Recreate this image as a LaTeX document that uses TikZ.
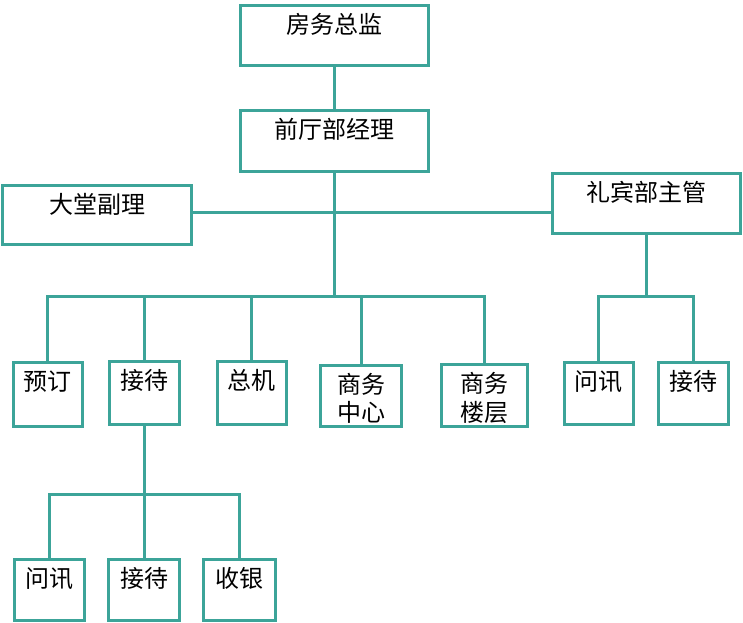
\documentclass[tikz,border=0pt]{standalone}
\usepackage{fontspec}
\newfontfamily\cjk{Noto Sans CJK SC}
\definecolor{tealc}{RGB}{60,164,153}
\begin{document}
\begin{tikzpicture}[x=1pt,y=-1pt,
  box/.style={draw=tealc, line width=3pt, inner sep=0pt, anchor=north,
    text height=28pt, font=\cjk\fontsize{24}{28.5}\selectfont, align=center},
  conn/.style={draw=tealc, line width=3pt}]
\useasboundingbox (0,0) rectangle (743,622);
% top
\node[box, minimum width=188pt, text depth=32pt] (A) at (334.5,3.5) {房务总监};
\node[box, minimum width=188pt, text depth=33pt] (B) at (334.5,108.5) {前厅部经理};
\node[box, minimum width=189pt, text depth=31pt] (C) at (97,184) {大堂副理};
\node[box, minimum width=188pt, text depth=32pt] (D) at (646.5,171.5) {礼宾部主管};
% row 2
\node[box, minimum width=69pt, text depth=36pt] (r1) at (47.8,360.8) {预订};
\node[box, minimum width=70pt, text depth=35pt] (r2) at (144.5,359.8) {接待};
\node[box, minimum width=69pt, text depth=35pt] (r3) at (251.8,359.8) {总机};
\node[box, minimum width=81pt, text depth=33pt] (r4) at (361,363.5) {\vtop{\hbox{商务}\hbox{中心}}};
\node[box, minimum width=86pt, text depth=34pt] (r5) at (484.5,363.2) {\vtop{\hbox{商务}\hbox{楼层}}};
\node[box, minimum width=69.5pt, text depth=34pt] (r6) at (598.8,360.8) {问讯};
\node[box, minimum width=70pt, text depth=34pt] (r7) at (693.5,360.5) {接待};
% bottom row
\node[box, minimum width=70pt, text depth=33pt] (b1) at (49.3,557.5) {问讯};
\node[box, minimum width=71pt, text depth=33pt] (b2) at (144,557.5) {接待};
\node[box, minimum width=72pt, text depth=33pt] (b3) at (239.5,557.5) {收银};
% bus coordinates
\coordinate (mid) at (334.5,212);
\coordinate (bus) at (334.5,296.5);
\coordinate (rbus) at (646.5,296);
\coordinate (lbus) at (144,494);
% connectors
\draw[conn] (A.south) -- (B.north);
\draw[conn] (C.east |- mid) -- (D.west |- mid);
\draw[conn] (B.south) -- (B.south |- bus);
\draw[conn] (r1.north) -- (r1.north |- bus) -- (r5.north |- bus) -- (r5.north);
\draw[conn] (r2.north) -- (r2.north |- bus);
\draw[conn] (r3.north) -- (r3.north |- bus);
\draw[conn] (r4.north) -- (r4.north |- bus);
\draw[conn] (D.south) -- (D.south |- rbus);
\draw[conn] (r6.north) -- (r6.north |- rbus) -- (r7.north |- rbus) -- (r7.north);
\draw[conn] (r2.south) -- (r2.south |- lbus);
\draw[conn] (b1.north) -- (b1.north |- lbus) -- (b3.north |- lbus) -- (b3.north);
\draw[conn] (b2.north) -- (b2.north |- lbus);
\end{tikzpicture}
\end{document}
